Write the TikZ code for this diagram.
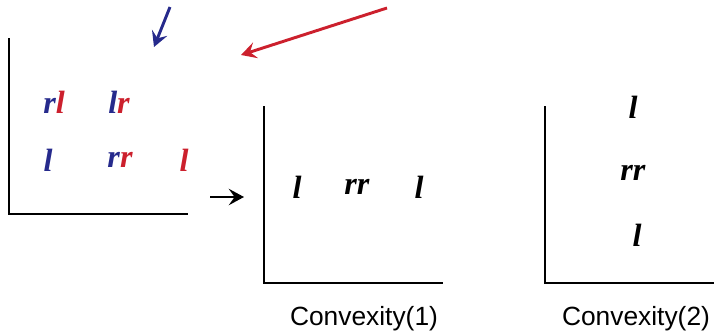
\documentclass[tikz,border=0pt]{standalone}
\usepackage{fontspec}
\setmainfont{Liberation Serif}
\newfontfamily\labelfont{Liberation Sans}
\usetikzlibrary{arrows.meta}
\definecolor{lblue}{RGB}{38,42,140}
\definecolor{lred}{RGB}{204,32,45}
\tikzset{
    letter/.style={font=\fontsize{27.5}{27.5}\selectfont\bfseries\itshape, inner sep=0pt},
    caption/.style={font=\fontsize{22.5}{22.5}\selectfont\labelfont, inner sep=0pt},
    axis/.style={line width=1.2pt},
    pointer/.style={line width=2.5pt, -{Stealth[length=13pt,width=14pt,inset=5pt]}}
}
\begin{document}
\begin{tikzpicture}[x=0.03cm,y=-0.03cm]
    \useasboundingbox (0,0) rectangle (714,333);% fix the margins
    % first panel
    \draw[axis] (9,38) -- (9,214) -- (188,214);% draw the axes
    \node[letter] (rl) at (54,102) {\textcolor{lblue}{r}\textcolor{lred}{l}};
    \node[letter] (lr) at (119,102) {\textcolor{lblue}{l}\textcolor{lred}{r}};
    \node[letter,text=lblue] (la) at (48,160) {l};
    \node[letter] (rr) at (120,160) {\textcolor{lblue}{r}\textcolor{lred}{r}};
    \node[letter,text=lred] (lb) at (184,160) {l};
    % second panel
    \draw[axis] (264,106) -- (264,283) -- (443,283);% draw the axes
    \node[letter] (one l) at (297,187) {l};
    \node[letter] (one rr) at (357,187) {rr};
    \node[letter] (one r) at (419,187) {l};
    \node[caption] (conv one) at (364,319) {Convexity(1)};
    % third panel
    \draw[axis] (545,106) -- (545,283) -- (714,283);% draw the axes
    \node[letter] (two t) at (633,107) {l};
    \node[letter] (two rr) at (633,173) {rr};
    \node[letter] (two b) at (637,235) {l};
    \node[caption] (conv two) at (636,319) {Convexity(2)};
    % arrows
    \coordinate (blue start) at (170,7);
    \coordinate (blue end) at (154,47);
    \coordinate (red start) at (387,8);
    \coordinate (red end) at (241,55);
    \coordinate (black start) at (210,197);
    \coordinate (black end) at (244,197);
    \draw[pointer,lblue] (blue start) -- (blue end);
    \draw[pointer,lred] (red start) -- (red end);
    \draw[pointer,black] (black start) -- (black end);
\end{tikzpicture}
\end{document}
